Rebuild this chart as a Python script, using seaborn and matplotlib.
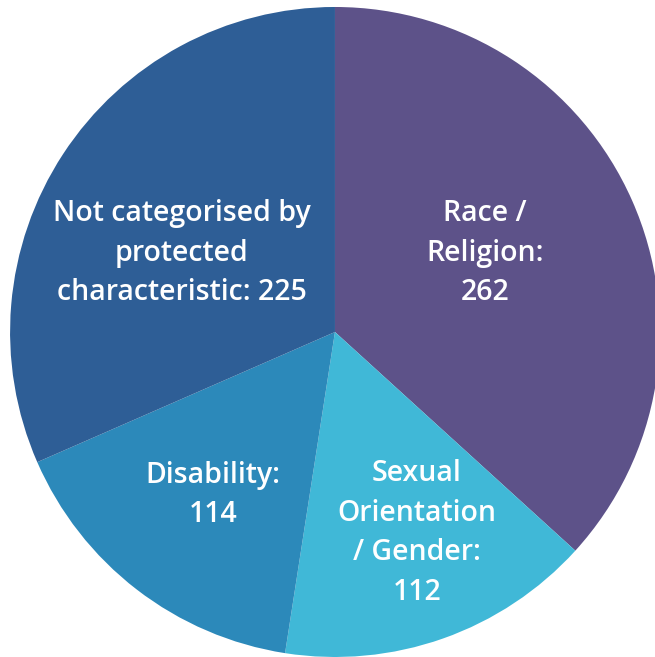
import matplotlib
matplotlib.use("Agg")
import matplotlib.pyplot as plt
import seaborn as sns

# Data
categories = ["Race / Religion", "Sexual Orientation / Gender", "Disability",
              "Not categorised by protected characteristic"]
counts = [262, 112, 114, 225]
label_texts = ["Race /\nReligion:\n262",
               "Sexual\nOrientation\n/ Gender:\n112",
               "Disability:\n114",
               "Not categorised by\nprotected\ncharacteristic: 225"]
colors = ["#5D5289", "#40B8D7", "#2C89BA", "#2E5E96"]

sns.set_theme(style="white")
plt.rcParams['font.family'] = ['Open Sans', 'DejaVu Sans']

fig = plt.figure(figsize=(6.55, 6.57), dpi=100)
ax = fig.add_axes([0, 0, 1, 1])
ax.pie(counts, colors=colors, startangle=90, counterclock=False,
       radius=1.0, wedgeprops=dict(linewidth=0))

# label positions (x, y) in pie units
label_pos = [(0.462, 0.243), (0.252, -0.618), (-0.375, -0.502), (-0.471, 0.243)]
for (x, y), t in zip(label_pos, label_texts):
    ax.text(x, y, t, ha="center", va="center", color="white",
            fontsize=20.5, fontweight="semibold", linespacing=1.48)

ax.set_xlim(-1.031, 0.985)
ax.set_ylim(-1.0, 1.0215)
ax.set_aspect("auto")
ax.axis("off")

fig.savefig("out.png", dpi=100, facecolor="white")
